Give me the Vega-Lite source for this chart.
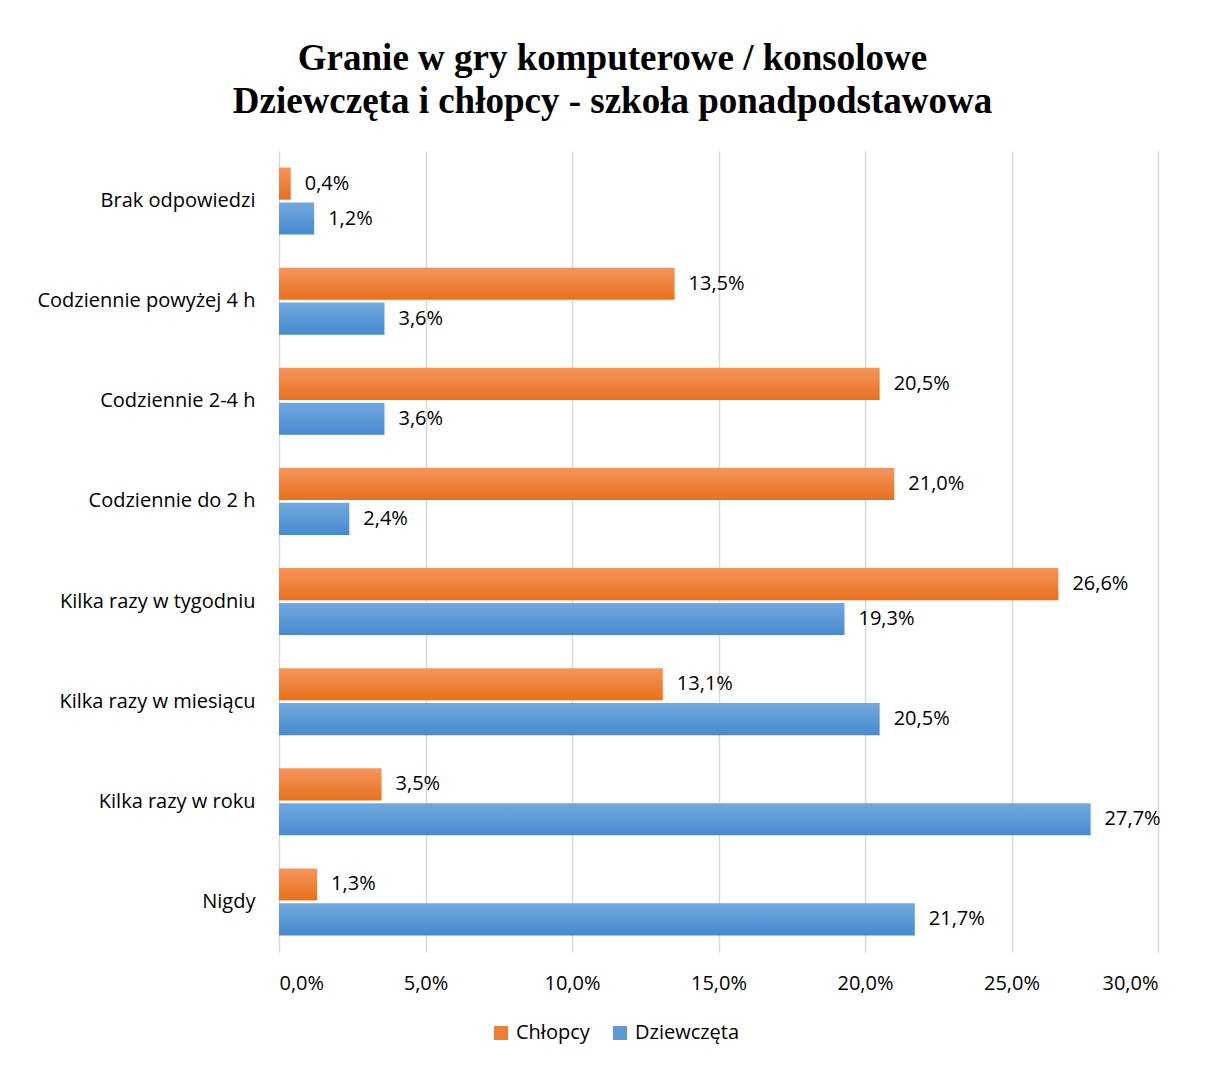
{
  "$schema": "https://vega.github.io/schema/vega-lite/v6.json",
  "width": 879,
  "height": 801,
  "padding": {"left": 36, "top": 40, "right": 10, "bottom": 10},
  "background": "white",
  "title": {
    "text": ["Granie w gry komputerowe / konsolowe", "Dziewczęta i chłopcy - szkoła ponadpodstawowa"],
    "font": "Liberation Serif",
    "fontSize": 37,
    "fontWeight": "bold",
    "color": "#000000",
    "lineHeight": 43,
    "anchor": "middle",
    "dx": -106,
    "offset": 30
  },
  "data": {
    "values": [
      {"kat": "Brak odpowiedzi", "grupa": "Chłopcy", "v": 0.004},
      {"kat": "Brak odpowiedzi", "grupa": "Dziewczęta", "v": 0.012},
      {"kat": "Codziennie powyżej 4 h", "grupa": "Chłopcy", "v": 0.135},
      {"kat": "Codziennie powyżej 4 h", "grupa": "Dziewczęta", "v": 0.036},
      {"kat": "Codziennie 2-4 h", "grupa": "Chłopcy", "v": 0.205},
      {"kat": "Codziennie 2-4 h", "grupa": "Dziewczęta", "v": 0.036},
      {"kat": "Codziennie do 2 h", "grupa": "Chłopcy", "v": 0.21},
      {"kat": "Codziennie do 2 h", "grupa": "Dziewczęta", "v": 0.024},
      {"kat": "Kilka razy w tygodniu", "grupa": "Chłopcy", "v": 0.266},
      {"kat": "Kilka razy w tygodniu", "grupa": "Dziewczęta", "v": 0.193},
      {"kat": "Kilka razy w miesiącu", "grupa": "Chłopcy", "v": 0.131},
      {"kat": "Kilka razy w miesiącu", "grupa": "Dziewczęta", "v": 0.205},
      {"kat": "Kilka razy w roku", "grupa": "Chłopcy", "v": 0.035},
      {"kat": "Kilka razy w roku", "grupa": "Dziewczęta", "v": 0.277},
      {"kat": "Nigdy", "grupa": "Chłopcy", "v": 0.013},
      {"kat": "Nigdy", "grupa": "Dziewczęta", "v": 0.217}
    ]
  },
  "encoding": {
    "y": {
      "field": "kat",
      "type": "nominal",
      "sort": null,
      "title": null,
      "scale": {"paddingInner": 0.33, "paddingOuter": 0.165},
      "axis": {
        "domain": false,
        "ticks": false,
        "labelFont": "Open Sans",
        "labelFontSize": 20,
        "labelColor": "#000000",
        "labelPadding": 24,
        "labelLimit": 400
      }
    },
    "yOffset": {
      "field": "grupa",
      "type": "nominal",
      "sort": ["Chłopcy", "Dziewczęta"],
      "scale": {"paddingInner": 0.08}
    },
    "x": {
      "field": "v",
      "type": "quantitative",
      "title": null,
      "scale": {"domain": [0, 0.3], "nice": false},
      "axis": {
        "values": [0, 0.05, 0.1, 0.15, 0.2, 0.25, 0.3],
        "format": ".1%",
        "domain": false,
        "ticks": false,
        "grid": true,
        "gridColor": "#d9d9d9",
        "gridWidth": 1.5,
        "labelFont": "Open Sans",
        "labelFontSize": 20,
        "labelColor": "#000000",
        "labelPadding": 21
      }
    }
  },
  "layer": [
    {
      "mark": {"type": "bar"},
      "encoding": {
        "fill": {
          "condition": {
            "test": "datum.grupa === 'Chłopcy'",
            "value": {"gradient": "linear", "x1": 0, "y1": 0, "x2": 0, "y2": 1, "stops": [{"offset": 0, "color": "#F5955C"}, {"offset": 1, "color": "#E8701D"}]}
          },
          "value": {"gradient": "linear", "x1": 0, "y1": 0, "x2": 0, "y2": 1, "stops": [{"offset": 0, "color": "#72A9DD"}, {"offset": 1, "color": "#468ACF"}]}
        }
      }
    },
    {
      "mark": {"type": "square", "opacity": 0},
      "encoding": {
        "color": {
          "field": "grupa",
          "type": "nominal",
          "scale": {"domain": ["Chłopcy", "Dziewczęta"], "range": ["#ED7D31", "#5B9BD5"]},
          "legend": {
            "title": null,
            "orient": "none",
            "direction": "horizontal",
            "legendX": 212,
            "legendY": 872,
            "symbolType": "square",
            "symbolSize": 196,
            "symbolOpacity": 1,
            "symbolStrokeWidth": 0,
            "labelFont": "Open Sans",
            "labelFontSize": 20,
            "labelColor": "#000000",
            "columnPadding": 20,
            "labelOffset": 5
          }
        }
      }
    },
    {
      "mark": {"type": "text", "align": "left", "baseline": "middle", "dx": 14, "font": "Open Sans", "fontSize": 20, "color": "#000000"},
      "encoding": {
        "text": {"field": "v", "type": "quantitative", "format": ".1%"}
      }
    }
  ],
  "config": {
    "locale": {
      "number": {"decimal": ",", "thousands": " ", "grouping": [3], "currency": ["", " zł"]}
    },
    "view": {"stroke": null}
  }
}
